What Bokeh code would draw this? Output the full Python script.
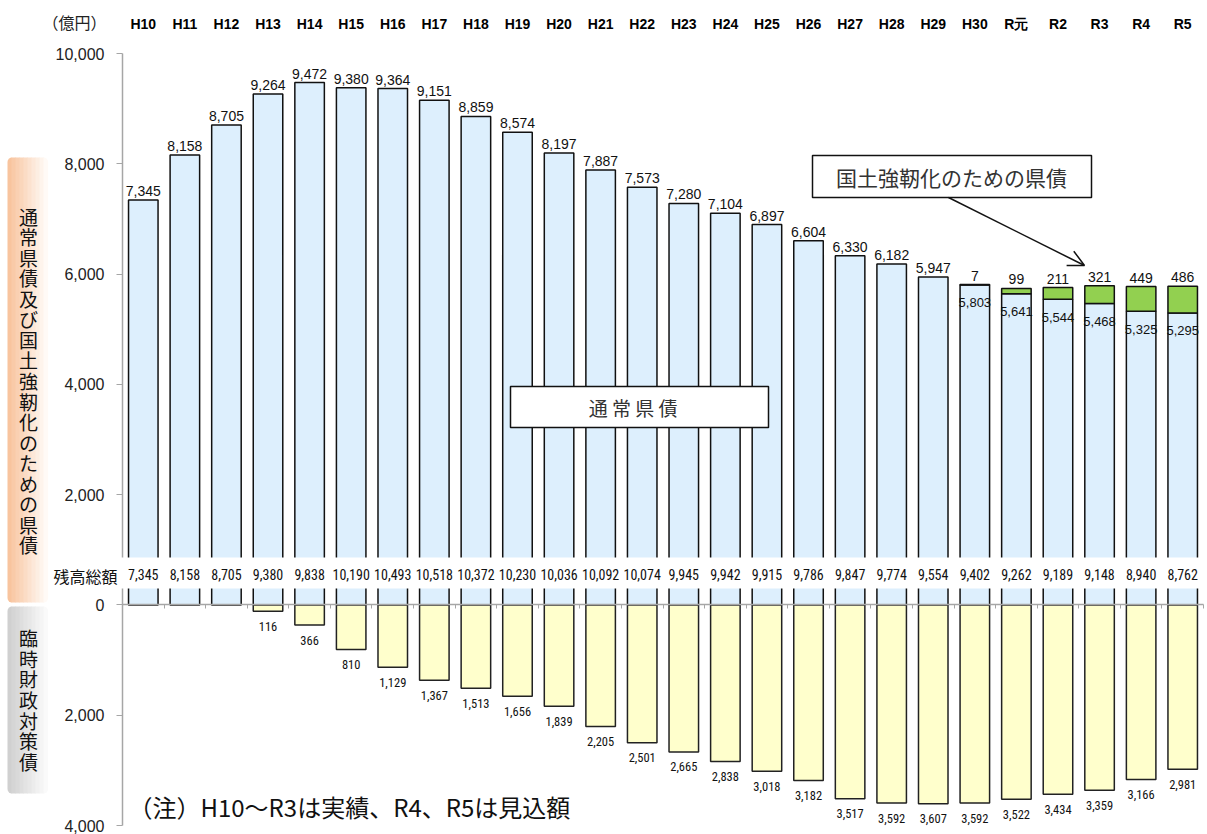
from bokeh.plotting import figure
from bokeh.models import (Range1d, FixedTicker, ColumnDataSource, Label, LabelSet,
                          BoxAnnotation, Arrow, OpenHead, LinearAxis)
from bokeh.core.properties import value
from bokeh.embed import file_html
from bokeh.resources import INLINE

# ---------------- data ----------------
categories = ["H10", "H11", "H12", "H13", "H14", "H15", "H16", "H17", "H18", "H19",
              "H20", "H21", "H22", "H23", "H24", "H25", "H26", "H27", "H28", "H29",
              "H30", "R元", "R2", "R3", "R4", "R5"]
regular_bonds = [7345, 8158, 8705, 9264, 9472, 9380, 9364, 9151, 8859, 8574,
                 8197, 7887, 7573, 7280, 7104, 6897, 6604, 6330, 6182, 5947,
                 5803, 5641, 5544, 5468, 5325, 5295]
resilience_bonds = [0, 0, 0, 0, 0, 0, 0, 0, 0, 0,
                    0, 0, 0, 0, 0, 0, 0, 0, 0, 0,
                    7, 99, 211, 321, 449, 486]
special_bonds = [0, 0, 0, 116, 366, 810, 1129, 1367, 1513, 1656,
                 1839, 2205, 2501, 2665, 2838, 3018, 3182, 3517, 3592, 3607,
                 3592, 3522, 3434, 3359, 3166, 2981]
total_balance = [7345, 8158, 8705, 9380, 9838, 10190, 10493, 10518, 10372, 10230,
                 10036, 10092, 10074, 9945, 9942, 9915, 9786, 9847, 9774, 9554,
                 9402, 9262, 9189, 9148, 8940, 8762]
y_ticks = [-4000, -2000, 0, 2000, 4000, 6000, 8000, 10000]

# ---------------- layout (pixel geometry of the plot area) ----------------
W, H = 1207, 834
AXL, AXR, AXT, AXB = 122, 1203, 53, 825      # pixel box of the value area
Y_MIN, Y_MAX = -4000, 10000
N = len(categories)


def X(px):
    return -0.5 + (px - AXL) * N / (AXR - AXL)


def Y(py):
    return Y_MAX - (py - AXT) * (Y_MAX - Y_MIN) / (AXB - AXT)


NUM_FONT = "Liberation Sans"
NARROW = "'Roboto Condensed', 'DejaVu Sans Condensed', 'Liberation Sans'"
JP_FONT = "Noto Sans CJK JP"

p = figure(width=W, height=H, output_backend="svg", toolbar_location=None,
           x_range=Range1d(X(0), X(W)), y_range=Range1d(Y(H), Y(0)),
           x_axis_location=None, y_axis_location=None,
           min_border_left=0, min_border_right=0, min_border_top=0, min_border_bottom=0)
p.outline_line_color = None
p.xgrid.grid_line_color = None
p.ygrid.grid_line_color = None
p.background_fill_color = "white"
p.border_fill_color = "white"

# ---------------- side label panels (gradient boxes) ----------------


def gradient(left_px, right_px, top_py, bottom_py, c0, c1, steps=10):
    for k in range(steps):
        a = left_px + (right_px - left_px) * k / steps
        b = left_px + (right_px - left_px) * (k + 1) / steps
        t = k / (steps - 1)
        col = "#%02x%02x%02x" % tuple(int(round(c0[j] + (c1[j] - c0[j]) * t)) for j in range(3))
        if k == 0:
            rad = (8, 0, 0, 8)
        elif k == steps - 1:
            rad = (0, 8, 8, 0)
        else:
            rad = 0
        p.add_layout(BoxAnnotation(left=X(a), right=X(b + 0.6), top=Y(top_py), bottom=Y(bottom_py),
                                   fill_color=col, fill_alpha=1.0, line_alpha=0,
                                   border_radius=rad))


gradient(7, 47, 157, 602, (248, 196, 158), (255, 250, 246))
gradient(7, 47, 606, 793, (208, 208, 208), (250, 250, 250))

p.add_layout(Label(x=X(28), y=Y(380), text="\n".join("通常県債及び国土強靭化のための県債"),
                   text_align="center", text_baseline="middle", text_font=JP_FONT,
                   text_font_size="19px", text_line_height=0.76, text_color="#111111"))
p.add_layout(Label(x=X(28), y=Y(699), text="\n".join("臨時財政対策債"),
                   text_align="center", text_baseline="middle", text_font=JP_FONT,
                   text_font_size="19px", text_line_height=0.76, text_color="#111111"))

# ---------------- axes ----------------
ya = LinearAxis(ticker=FixedTicker(ticks=y_ticks), fixed_location=-0.5,
                bounds=(Y_MIN, Y_MAX))
ya.major_label_overrides = {t: f"{abs(t):,}" for t in y_ticks}
ya.axis_line_color = "#A6A6A6"
ya.axis_line_width = 1.5
ya.major_tick_line_color = "#A6A6A6"
ya.major_tick_out = 6
ya.major_tick_in = 0
ya.minor_tick_line_color = None
ya.major_label_standoff = 12
ya.major_label_text_font = NUM_FONT
ya.major_label_text_font_size = "16px"
ya.major_label_text_color = "#222222"
p.add_layout(ya, "left")

xa = LinearAxis(ticker=FixedTicker(ticks=list(range(N))), fixed_location=Y_MAX)
xa.major_label_overrides = {i: c for i, c in enumerate(categories)}
xa.axis_line_color = None
xa.major_tick_line_color = None
xa.minor_tick_line_color = None
xa.major_label_standoff = 16
xa.major_label_text_font = NUM_FONT
xa.major_label_text_font_size = "14px"
xa.major_label_text_font_style = "bold"
xa.major_label_text_color = "#000000"
p.add_layout(xa, "above")

# zero baseline with small category-boundary ticks
za = LinearAxis(ticker=FixedTicker(ticks=[i + 0.5 for i in range(-1, N)]), fixed_location=0,
                bounds=(-0.5, N - 0.5))
za.axis_line_color = "#A6A6A6"
za.axis_line_width = 1.5
za.major_tick_line_color = "#A6A6A6"
za.major_tick_out = 4
za.major_tick_in = 0
za.minor_tick_line_color = None
za.major_label_text_font_size = "0px"
za.major_label_text_alpha = 0
p.add_layout(za, "below")

# ---------------- sources ----------------
xs = list(range(N))
base_src = ColumnDataSource(dict(x=xs, top=regular_bonds))

res_idx = [i for i in range(N) if resilience_bonds[i] > 0]
res_src = ColumnDataSource(dict(
    x=[xs[i] for i in res_idx],
    bottom=[regular_bonds[i] for i in res_idx],
    top=[regular_bonds[i] + resilience_bonds[i] for i in res_idx],
    res_lbl=[f"{resilience_bonds[i]:,}" for i in res_idx],
    reg_lbl=[f"{regular_bonds[i]:,}" for i in res_idx],
))

sp_idx = [i for i in range(N) if special_bonds[i] > 0]
sp_src = ColumnDataSource(dict(
    x=[xs[i] for i in sp_idx],
    bottom=[-special_bonds[i] for i in sp_idx],
    lbl=[f"{special_bonds[i]:,}" for i in sp_idx],
))

plain_idx = [i for i in range(N) if resilience_bonds[i] == 0]
plain_src = ColumnDataSource(dict(
    x=[xs[i] for i in plain_idx],
    top=[regular_bonds[i] for i in plain_idx],
    lbl=[f"{regular_bonds[i]:,}" for i in plain_idx],
))

BAR_W = 0.71
p.vbar(x="x", top="top", bottom=0, width=BAR_W, source=base_src,
       fill_color="#DDEFFD", line_color="#111111", line_width=1.5)
p.vbar(x="x", top="top", bottom="bottom", width=BAR_W, source=res_src,
       fill_color="#92D050", line_color="#111111", line_width=1.5)
p.vbar(x="x", top=0, bottom="bottom", width=BAR_W, source=sp_src,
       fill_color="#FFFFCC", line_color="#222222", line_width=1.5)

# value labels
p.text(x="x", y="top", text="lbl", source=plain_src, text_align="center",
       text_baseline="alphabetic", y_offset=-9, text_font=value(NUM_FONT),
       text_font_size="14px", text_color="#111111")
p.text(x="x", y="top", text="res_lbl", source=res_src, text_align="center",
       text_baseline="alphabetic", y_offset=-9, text_font=value(NUM_FONT),
       text_font_size="14px", text_color="#111111")
p.text(x="x", y="bottom", text="reg_lbl", source=res_src, text_align="center",
       text_baseline="middle", y_offset=18, text_font=value(NUM_FONT),
       text_font_size="13px", text_color="#111111")
p.text(x="x", y="bottom", text="lbl", source=sp_src, text_align="center",
       text_baseline="middle", y_offset=15, text_font=value(NARROW),
       text_font_size="12.5px", text_color="#111111")

# totals band (white strip breaking bars and axis), then totals
p.add_layout(BoxAnnotation(left=X(118), right=X(W), bottom=Y(588), top=Y(557),
                           fill_color="white", fill_alpha=1.0, line_alpha=0))
tot_src = ColumnDataSource(dict(x=xs, y=[Y(574)] * N, lbl=[f"{t:,}" for t in total_balance]))
p.add_layout(LabelSet(x="x", y="y", text="lbl", source=tot_src, text_align="center",
                      text_baseline="middle", text_font=value(NARROW),
                      text_font_size=value("14px"), text_color="#111111"))
p.add_layout(Label(x=X(85), y=Y(575), text="残高総額", text_align="center",
                   text_baseline="middle", text_font=JP_FONT, text_font_size="16px",
                   text_color="#111111"))

# unit label
p.add_layout(Label(x=X(74), y=Y(21), text="（億円）", text_align="center",
                   text_baseline="middle", text_font=JP_FONT, text_font_size="16px",
                   text_color="#222222"))

# text boxes
p.add_layout(BoxAnnotation(left=X(510), right=X(768), top=Y(386), bottom=Y(427),
                           fill_color="white", fill_alpha=1.0, line_color="#111111",
                           line_width=1.5, line_alpha=1.0))
p.add_layout(Label(x=X(639), y=Y(407), text="通  常  県  債", text_align="center",
                   text_baseline="middle", text_font=JP_FONT, text_font_size="19px",
                   text_color="#333333"))

p.add_layout(BoxAnnotation(left=X(812), right=X(1091), top=Y(155), bottom=Y(197),
                           fill_color="white", fill_alpha=1.0, line_color="#111111",
                           line_width=1.5, line_alpha=1.0))
p.add_layout(Label(x=X(951), y=Y(176), text="国土強靭化のための県債", text_align="center",
                   text_baseline="middle", text_font=JP_FONT, text_font_size="21px",
                   text_color="#333333"))
p.add_layout(Arrow(end=OpenHead(size=16, line_width=1.5, line_color="#111111"),
                   x_start=X(948), y_start=Y(197), x_end=X(1084), y_end=Y(265),
                   line_width=1.5, line_color="#111111"))

# note
p.add_layout(Label(x=X(128), y=Y(806), text="（注）H10〜R3は実績、R4、R5は見込額",
                   text_align="left", text_baseline="middle", text_font=JP_FONT,
                   text_font_size="24px", text_color="#111111"))

open("out.html", "w").write(file_html(p, INLINE))
